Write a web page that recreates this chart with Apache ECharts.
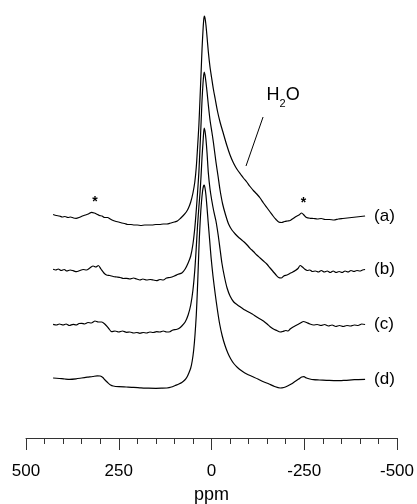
<!DOCTYPE html>
<html>
<head>
<meta charset="utf-8">
<script src="https://cdn.jsdelivr.net/npm/echarts@6/dist/echarts.min.js"></script>
<style>
html,body{margin:0;padding:0;background:#fff;}
#chart{width:417px;height:504px;}
</style>
</head>
<body>
<div id="chart"></div>
<script>
// ---- data (ppm, intensity relative to each trace's own baseline) ----
const traceNames = ['(a)', '(b)', '(c)', '(d)'];
const traceOffsets = [221, 168, 113, 58];

const traceA = [[427,2.5],[418,1.5],[410,1],[402,0],[395,0.5],[387,-0.5],[380,0],[372,-1],[365,-1.3],[357,-0.5],[348,1],[340,2],[332,3],[323,4.7],[316,4],[310,3],[302,1.5],[295,1],[288,-0.5],[280,-0.5],[273,-2],[265,-3.5],[257,-4.5],[250,-5],[242,-6],[234,-6.5],[226,-7.5],[217,-7.5],[208,-8],[200,-8],[190,-8.5],[180,-8],[170,-8],[160,-8],[150,-7.5],[140,-7.5],[130,-7],[120,-7],[110,-6],[100,-5],[92,-4],[84,-1.5],[76,1.5],[68,5],[62,9],[56,15],[50,24],[45,35],[41,50],[37.5,70],[34,92],[31,118],[28,145],[25.5,168],[23,186],[21,197],[19.5,201],[17.5,199],[15,192],[12,180],[8.5,165],[4,150],[0,140],[-5,128],[-10,118],[-16,106],[-23,95],[-30,86],[-41,72],[-50,62],[-58,55],[-65,50],[-72,46],[-78,43],[-86,39],[-95,35],[-104,30.5],[-114,26],[-122,23],[-131,19],[-140,14],[-150,9],[-158,5],[-166,1],[-174,-2.5],[-181,-5],[-189,-5.5],[-197,-4.5],[-205,-4],[-212,-3.5],[-220,-1.5],[-228,0.5],[-236,2],[-243,4],[-249,2],[-256,-0.5],[-266,-1.3],[-275,-1.5],[-285,-2],[-296,-1.5],[-306,-2.5],[-318,-2.5],[-330,-3],[-342,-2],[-354,-1.5],[-366,-1],[-378,-0.5],[-390,0],[-402,0.5],[-414,1]];

const traceB = [[427,0.7],[420,0],[413,1],[405,-0.5],[397,0.5],[390,-1],[381,0],[373,-0.7],[364,-1.7],[355,-0.5],[346,0.5],[337,0],[328,2],[319,4],[312,3],[305,4.5],[298,1],[290,-3],[283,-5],[274,-5.5],[265,-6.5],[255,-7],[246,-7.5],[237,-8.5],[229,-8.3],[220,-9],[210,-8],[202,-9],[193,-10],[185,-9],[175,-10],[165,-9.5],[157,-10],[148,-10.7],[139,-9.5],[130,-10],[121,-8],[112,-7.5],[100,-6],[90,-4.3],[80,-3],[71,1],[63,7],[56,14],[50,26],[45,42],[41,60],[37.5,78],[34,98],[31,122],[28,148],[25.5,170],[23,186],[21,195],[19.5,198],[17.5,195],[15,188],[12,178],[8.5,165],[4,150],[-1,138],[-5,128],[-12,108],[-18,93],[-23,80],[-30,66],[-38,55],[-46,46],[-55,40],[-64,36],[-72,33],[-80,30.5],[-88,28],[-96,25],[-104,21.7],[-113,18.5],[-122,15],[-131,12],[-140,9],[-149,6],[-158,2],[-166,-1.5],[-174,-5],[-181,-7.5],[-188,-8],[-195,-6],[-203,-5],[-211,-3.5],[-219,-2],[-226,-0.5],[-233,1.5],[-239,4.5],[-245,3],[-251,1],[-258,-0.5],[-265,0],[-272,-1.5],[-280,-1],[-288,-2],[-296,-0.5],[-304,-2],[-312,-1],[-320,-2.5],[-328,-1],[-336,-2.5],[-344,-1.5],[-352,-2.5],[-360,-1],[-368,-2],[-376,-0.5],[-384,-1.5],[-392,-0.5],[-400,-1],[-407,0],[-414,0.5]];

const traceC = [[427,0.7],[418,0],[410,1],[400,0],[392,1],[383,-0.5],[373,0.7],[365,0],[357,1.5],[350,1.7],[342,1],[333,2.5],[324,2],[314,4],[305,3],[296,3],[287,0.7],[278,-3],[269,-6.7],[260,-6],[250,-7],[240,-6],[229,-7.3],[220,-7],[210,-8],[201,-7.5],[193,-8.3],[184,-7.5],[175,-8],[166,-7],[157,-7.5],[148,-6.7],[139,-7],[130,-6],[121,-7],[112,-6.7],[104,-5],[95,-4.5],[88,-3.5],[80,-1],[71,3],[63,10],[56,20],[50,35],[45,55],[41,78],[37.5,100],[34,118],[31,132],[28,150],[25.5,168],[23,182],[21,193],[19.5,197],[17.5,194],[15,186],[12,172],[8.5,152],[4,136],[-1,124],[-6,114],[-12,104],[-18,90],[-23,76],[-28,62],[-35,48],[-42,37],[-50,29],[-60,23],[-70,20],[-80,17.5],[-90,15],[-100,13],[-110,11],[-122,8],[-131,6],[-140,4],[-150,1],[-158,-1.7],[-167,-4],[-176,-5.5],[-185,-7],[-192,-6.5],[-200,-5.5],[-206,-6],[-212,-4],[-220,-2],[-230,0],[-240,2],[-248,3.5],[-256,2.5],[-265,1],[-275,0],[-285,0.5],[-295,-0.5],[-305,0.5],[-315,-1],[-325,0],[-335,-1.5],[-345,-0.5],[-355,-1.5],[-365,-0.5],[-375,-1],[-385,0],[-395,-0.5],[-405,1],[-414,0.5]];

const traceD = [[427,2],[410,1.5],[395,1],[382,0.7],[365,1.2],[350,2],[335,2.8],[320,3.5],[308,4.2],[300,4],[293,2.5],[287,0],[280,-2.5],[272,-5],[265,-6],[250,-6.7],[230,-7],[210,-7.3],[190,-7.8],[170,-8.2],[150,-8.3],[135,-8.2],[120,-8],[108,-7],[98,-5.5],[88,-4],[80,-2.5],[72,0],[66,3],[61,7],[56,12],[52,19],[48,30],[44.5,45],[41,65],[38,90],[35.5,115],[33,140],[30,162],[27,178],[24,189],[21.5,194],[19.5,195],[17.5,192],[15,185],[12,172],[9,158],[5,140],[1,122],[-4,104],[-10,86],[-16,70],[-22,56],[-29,44],[-36,35],[-44,27],[-52,21],[-60,16.5],[-70,12.5],[-82,9],[-95,6],[-110,3.5],[-125,1],[-140,-1.7],[-155,-4],[-170,-6.5],[-185,-8],[-195,-7.5],[-205,-6],[-215,-4],[-225,-1.5],[-235,1],[-243,3],[-249,3.3],[-256,2],[-265,1],[-275,0.3],[-290,0],[-310,-0.3],[-337,-0.7],[-360,-0.3],[-385,0.3],[-414,0.7]];

const traces = [traceA, traceB, traceC, traceD];

// axis
const xMin = -500, xMax = 500, xInterval = 250;
const axisName = 'ppm';

// annotations (data coordinates)
const asteriskPoints = [[314, 239], [-248, 238]];
const h2oLabelAt = [-193, 341];
const h2oLineFrom = [-139, 321];
const h2oLineTo = [-93, 272];

const FONT = '"Liberation Sans", Arial, Helvetica, sans-serif';

const chart = echarts.init(document.getElementById('chart'), null, {renderer: 'canvas'});

const series = traces.map((t, k) => {
  const data = t.map(([p, v]) => [p, v + traceOffsets[k]]);
  const last = data[data.length - 1];
  const mpData = [{
    coord: last,
    label: {show: true, formatter: traceNames[k], position: 'right', distance: 9, fontSize: 17, fontFamily: FONT, color: '#000'}
  }];
  const s = {
    type: 'line',
    name: traceNames[k],
    data: data,
    showSymbol: false,
    symbol: 'none',
    smooth: 0.25,
    lineStyle: {color: '#000', width: 1.2},
    itemStyle: {color: '#000'},
    z: 2,
    emphasis: {disabled: true},
    silent: true,
    markPoint: {silent: true, symbol: 'circle', symbolSize: 0, itemStyle: {color: 'rgba(0,0,0,0)'}, data: mpData}
  };
  if (k === 0) {
    asteriskPoints.forEach(c => mpData.push({
      coord: c,
      label: {show: true, formatter: '*', position: 'inside', fontSize: 14, fontWeight: 'bold', fontFamily: FONT, color: '#000', offset: [0, 3]}
    }));
    mpData.push({
      coord: h2oLabelAt,
      label: {
        show: true,
        position: 'inside',
        formatter: '{n|H}{s|2}{n|O}',
        color: '#000',
        rich: {
          n: {fontSize: 18, fontFamily: FONT, color: '#000', lineHeight: 22, verticalAlign: 'top'},
          s: {fontSize: 11, fontFamily: FONT, color: '#000', lineHeight: 22, padding: [12, 0, 0, 0], verticalAlign: 'top'}
        }
      }
    });
    s.markLine = {
      silent: true,
      symbol: ['none', 'none'],
      lineStyle: {color: '#000', width: 1, type: 'solid'},
      label: {show: false},
      data: [[{coord: h2oLineFrom}, {coord: h2oLineTo}]]
    };
  }
  return s;
});

chart.setOption({
  animation: false,
  backgroundColor: '#fff',
  grid: {left: 26, right: 20, top: 0, bottom: 66, containLabel: false, outerBoundsMode: 'none'},
  xAxis: {
    type: 'value',
    inverse: true,
    min: xMin,
    max: xMax,
    interval: xInterval,
    name: axisName,
    nameLocation: 'middle',
    nameGap: 48,
    nameTextStyle: {fontSize: 18, fontFamily: FONT, color: '#000'},
    axisLine: {show: true, lineStyle: {color: '#333', width: 1}},
    axisTick: {show: true, length: 12, lineStyle: {color: '#333', width: 1}},
    minorTick: {show: true, splitNumber: 5, length: 6, lineStyle: {color: '#333', width: 1}},
    splitLine: {show: false},
    minorSplitLine: {show: false},
    axisLabel: {fontSize: 17, fontFamily: FONT, color: '#000', margin: 25}
  },
  yAxis: {
    type: 'value',
    min: 0,
    max: 438,
    show: false,
    splitLine: {show: false}
  },
  series: series
});
</script>
</body>
</html>
